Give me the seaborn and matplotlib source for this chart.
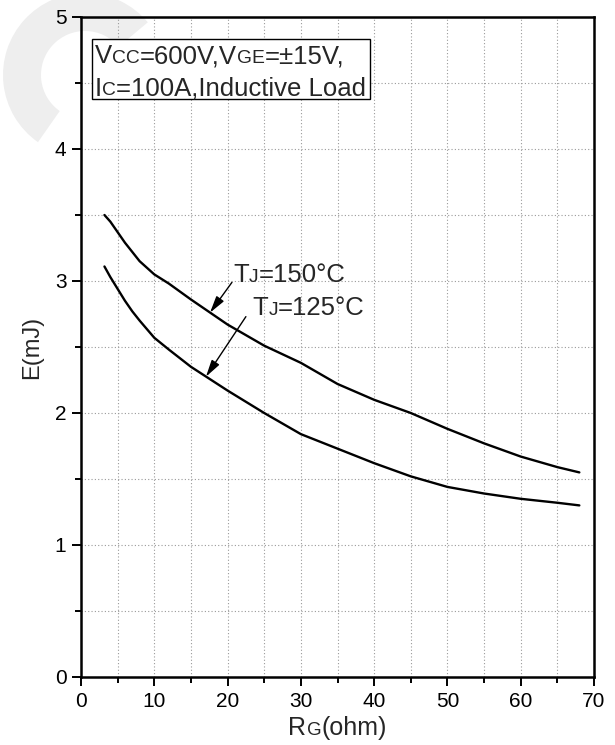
import numpy as np
import pandas as pd
import matplotlib
matplotlib.use("Agg")
import matplotlib.pyplot as plt
import seaborn as sns
from matplotlib.patches import Rectangle, Wedge, ArrowStyle
from matplotlib.ticker import MultipleLocator

# Switching energy vs. gate resistance
rg_150 = [3.2, 4, 5, 6, 7, 8, 9, 10, 12, 15, 20, 25, 30, 35, 40, 45, 50, 55, 60, 65, 68]
e_150 = [3.50, 3.45, 3.37, 3.29, 3.22, 3.15, 3.10, 3.05, 2.98, 2.86, 2.67, 2.51,
         2.38, 2.22, 2.10, 2.00, 1.88, 1.77, 1.67, 1.59, 1.55]

rg_125 = [3.2, 4, 5, 6, 7, 8, 10, 12, 15, 20, 25, 30, 35, 40, 45, 50, 55, 60, 65, 68]
e_125 = [3.11, 3.03, 2.94, 2.85, 2.77, 2.70, 2.57, 2.48, 2.35, 2.17, 2.00, 1.84,
         1.73, 1.62, 1.52, 1.44, 1.39, 1.35, 1.32, 1.30]

series_labels = ["150", "125"]

x_ticks = [0, 10, 20, 30, 40, 50, 60, 70]
y_ticks = [0, 1, 2, 3, 4, 5]

df = pd.concat([
    pd.DataFrame({"Rg": rg_150, "E": e_150, "Tj": series_labels[0]}),
    pd.DataFrame({"Rg": rg_125, "E": e_125, "Tj": series_labels[1]}),
])

sns.set_style("ticks")
plt.rcParams["font.family"] = ["Liberation Sans", "DejaVu Sans"]
plt.rcParams["xtick.labelsize"] = 15
plt.rcParams["ytick.labelsize"] = 15

fig = plt.figure(figsize=(6.15, 7.45), dpi=100)
ax = fig.add_axes([81 / 615, 1 - 677 / 745, 513 / 615, 660 / 745])
ax.set_facecolor("none")

# faint background swoosh
swoosh = Wedge((85, 670), 82, 40, 235, width=38, facecolor="#eeeeee",
               edgecolor="none", transform=None, zorder=-5)
fig.patches.append(swoosh)

sns.lineplot(data=df, x="Rg", y="E", hue="Tj", palette=["black", "black"],
             linewidth=1.7, legend=False, ax=ax, sort=True)

ax.set_xlim(0, 70)
ax.set_ylim(0, 5)
ax.set_xticks(x_ticks)
ax.set_yticks(y_ticks)
ax.xaxis.set_minor_locator(MultipleLocator(5))
ax.yaxis.set_minor_locator(MultipleLocator(0.5))
ax.grid(True, which="both", color="#9a9a9a", linestyle=(0, (1, 2)), linewidth=0.8)
ax.set_axisbelow(True)

for s in ax.spines.values():
    s.set_linewidth(1.8)
    s.set_color("black")
    s.set_visible(True)

ax.tick_params(which="major", direction="out", length=6.5, width=1.4,
               labelsize=15, pad=4, color="black", labelcolor="black")
ax.tick_params(which="minor", direction="out", length=4, width=1.4, color="black")
ax.tick_params(top=False, right=False, which="both")
for lbl in ax.get_xticklabels() + ax.get_yticklabels():
    lbl.set_fontsize(15)

ax.set_ylabel("E(mJ)", fontsize=17, labelpad=8)
ax.set_xlabel("")

DESC = 0.21


def mixed_text(parts, x, y, size, coords, ha="left", zorder=5):
    """Draw text whose flagged pieces are set in smaller capitals on one baseline."""
    small = size * 0.75
    pieces = []
    prev, prev_fs = None, None
    for s, is_small in parts:
        fs = small if is_small else size
        if prev is None:
            t = ax.annotate(s, xy=(x, y), xycoords=coords, xytext=(0, 0),
                            textcoords="offset points", fontsize=fs, ha="left",
                            va="baseline", annotation_clip=False, zorder=zorder)
        else:
            t = ax.annotate(s, xy=(1, 0), xycoords=prev,
                            xytext=(0, DESC * (prev_fs - fs)),
                            textcoords="offset points", fontsize=fs, ha="left",
                            va="bottom", annotation_clip=False, zorder=zorder)
        pieces.append(t)
        prev, prev_fs = t, fs
    if ha == "center":
        fig.canvas.draw()
        r = fig.canvas.get_renderer()
        x0 = pieces[0].get_window_extent(r).x0
        x1 = pieces[-1].get_window_extent(r).x1
        pieces[0].xyann = (-(x1 - x0) * 72 / fig.dpi / 2, 0)
    return pieces


# x-axis label
mixed_text([("R", False), ("G", True), ("(ohm)", False)], 0.5, -0.088, 18,
           "axes fraction", ha="center")

# condition box
mixed_text([("V", False), ("CC", True), ("=600V,V", False), ("GE", True),
            ("=\u00b115V,", False)], 0.027, 0.930, 18.5, "axes fraction")
mixed_text([("I", False), ("C", True), ("=100A,Inductive Load", False)],
           0.027, 0.881, 18.5, "axes fraction")
ax.add_patch(Rectangle((0.0214, 0.876), 0.5415, 0.091, transform=ax.transAxes,
                       facecolor="white", edgecolor="black", linewidth=1.0, zorder=4))

# curve annotations
arrow = ArrowStyle("-|>", head_length=0.6, head_width=0.16)
ax.annotate("", xy=(17.6, 2.76), xytext=(20.6, 2.99),
            arrowprops=dict(arrowstyle=arrow, color="black", lw=1.0,
                            mutation_scale=17, shrinkA=0, shrinkB=0))
ax.annotate("", xy=(17.05, 2.275), xytext=(22.5, 2.73),
            arrowprops=dict(arrowstyle=arrow, color="black", lw=1.0,
                            mutation_scale=17, shrinkA=0, shrinkB=0))
mixed_text([("T", False), ("J", True), ("=150\u00b0C", False)], 20.8, 2.99, 18.5, "data")
mixed_text([("T", False), ("J", True), ("=125\u00b0C", False)], 23.4, 2.74, 18.5, "data")

fig.savefig("out.png", dpi=100)
